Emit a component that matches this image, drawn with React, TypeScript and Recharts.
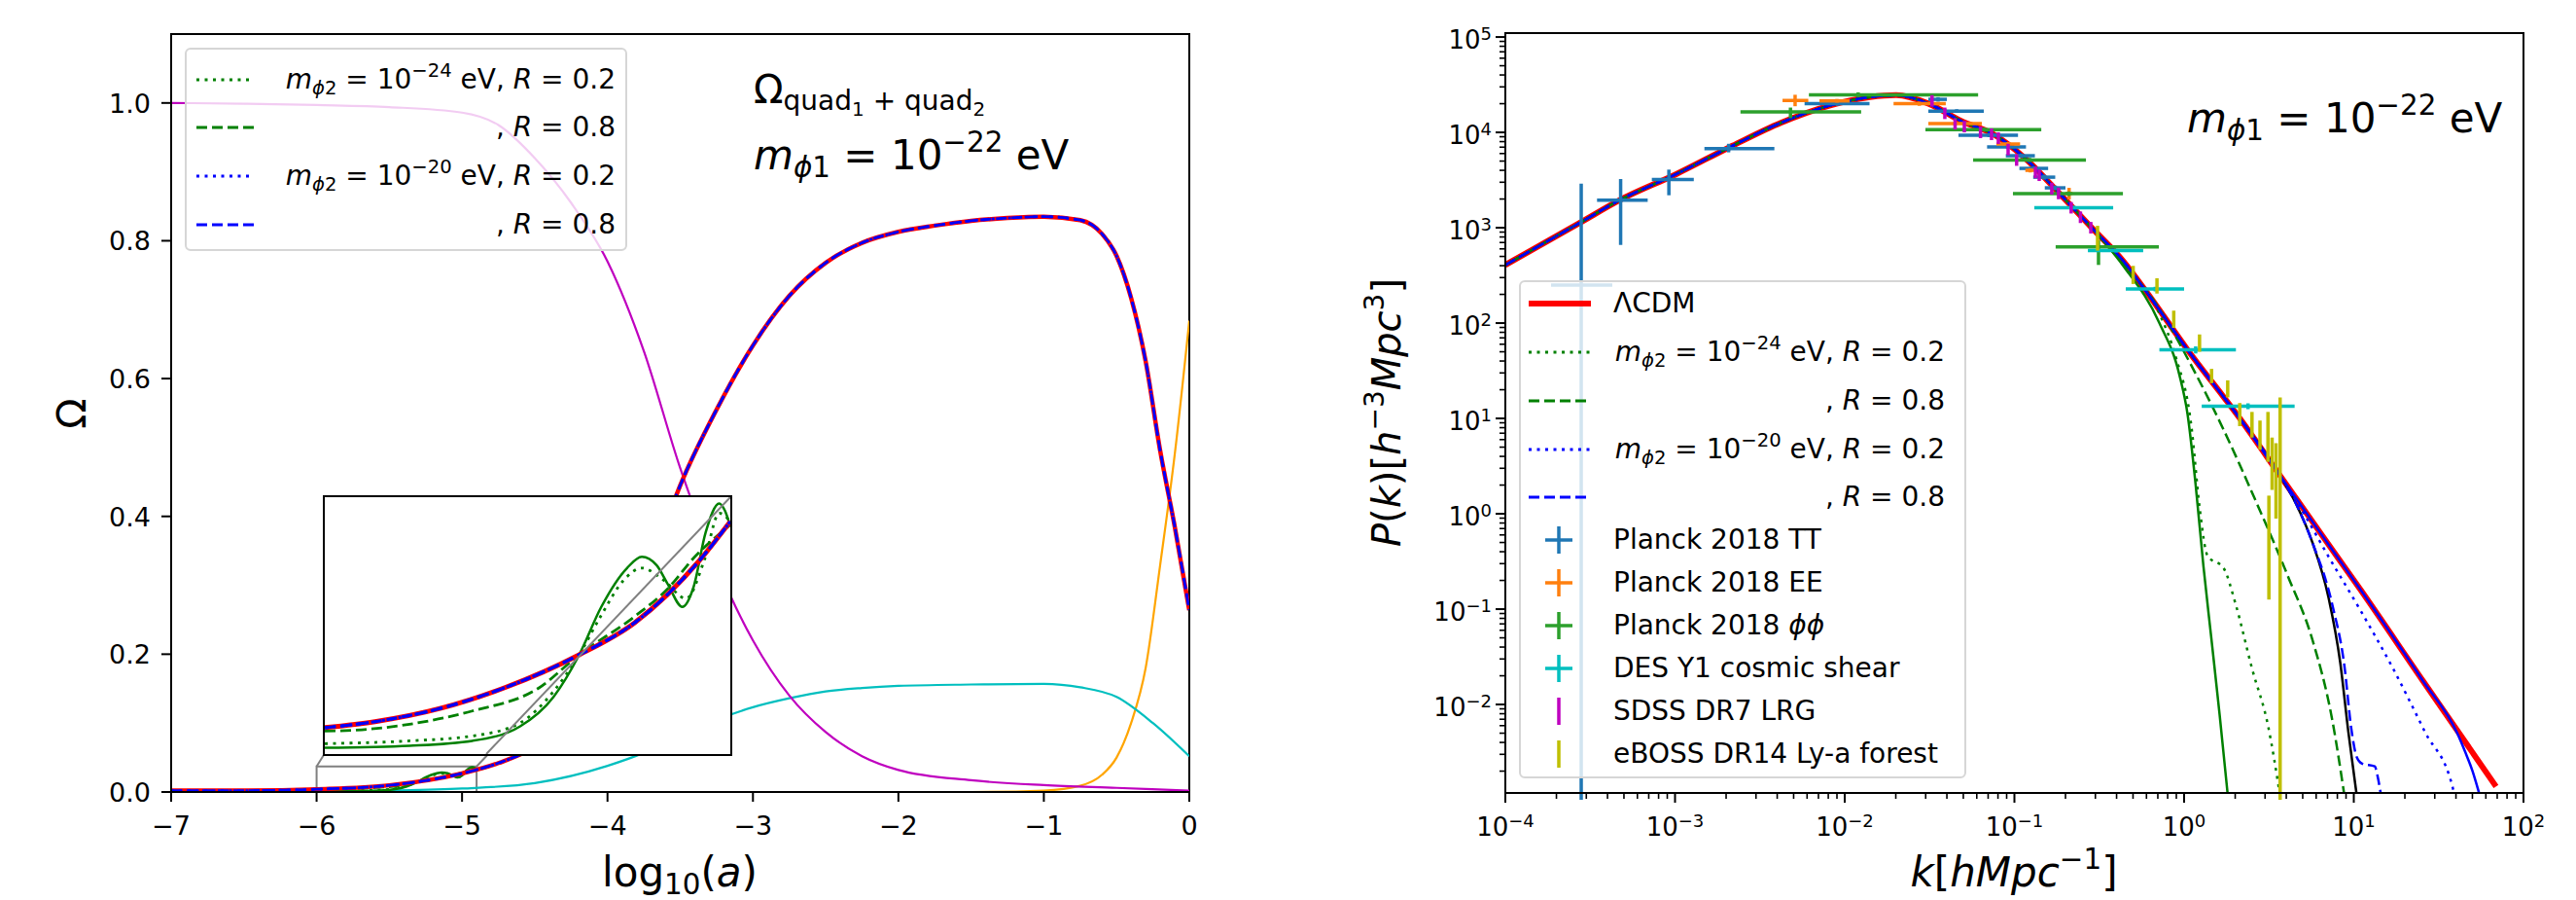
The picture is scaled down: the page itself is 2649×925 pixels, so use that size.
import React from 'react';
import { ComposedChart, Line, Scatter, ErrorBar, XAxis, YAxis, ReferenceArea, Legend } from 'recharts';

const FONT = '"DejaVu Sans", Verdana, sans-serif';

// ---------- left panel: density parameters vs log10(a) ----------
const radX = [-7, -6.5, -6, -5.5, -5, -4.75, -4.5, -4.25, -4, -3.75, -3.5, -3.25, -3, -2.75, -2.5, -2.25, -2, -1.5, -1, -0.5, 0];
const radY = [1.0, 0.999, 0.997, 0.994, 0.986, 0.968, 0.92, 0.855, 0.77, 0.64, 0.47, 0.33, 0.22, 0.14, 0.087, 0.052, 0.032, 0.017, 0.01, 0.006, 0.002];

const quadX = [-7, -6.5, -6, -5.5, -5, -4.75, -4.5, -4.25, -4, -3.75, -3.5, -3.25, -3, -2.75, -2.5, -2.25, -2, -1.75, -1.5, -1.25, -1, -0.75, -0.6, -0.5, -0.4, -0.3, -0.2, -0.1, 0];
const quadY = [0.002, 0.002, 0.004, 0.0097, 0.027, 0.042, 0.066, 0.115, 0.185, 0.3, 0.445, 0.555, 0.648, 0.72, 0.768, 0.797, 0.813, 0.822, 0.829, 0.833, 0.835, 0.83, 0.81, 0.778, 0.717, 0.625, 0.495, 0.385, 0.264];

const barX = [-7, -6, -5.5, -5, -4.5, -4, -3.75, -3.5, -3.25, -3, -2.75, -2.5, -2.25, -2, -1.5, -1, -0.75, -0.5, -0.25, 0];
const barY = [0.0003, 0.0008, 0.002, 0.005, 0.013, 0.038, 0.057, 0.083, 0.105, 0.123, 0.136, 0.146, 0.151, 0.154, 0.156, 0.157, 0.152, 0.138, 0.1, 0.052];

const lamX = [-7, -1.5, -1, -0.75, -0.6, -0.5, -0.4, -0.3, -0.2, -0.1, 0];
const lamY = [0, 0, 0.002, 0.009, 0.025, 0.05, 0.1, 0.18, 0.33, 0.49, 0.684];

// inset window: log10(a) in [-6, -4.9], Omega in [0, 0.037]
const insX = [-6, -5.86, -5.685, -5.51, -5.31, -5.16, -5.07, -4.985, -4.9];
const insQuad = [0.0038, 0.0047, 0.0066, 0.0096, 0.0143, 0.0189, 0.023, 0.0278, 0.0335];
const insDashX = [-6, -5.9, -5.77, -5.6, -5.42, -5.31, -5.16, -5.07, -5.0, -4.9];
const insDashY = [0.0033, 0.0035, 0.0043, 0.0062, 0.0095, 0.0143, 0.0198, 0.0238, 0.0282, 0.033];
const insDotX = [-6, -5.77, -5.6, -5.47, -5.38, -5.31, -5.25, -5.19, -5.14, -5.08, -5.02, -4.97, -4.93, -4.9];
const insDotY = [0.0015, 0.0019, 0.0026, 0.0045, 0.009, 0.0143, 0.02, 0.025, 0.0268, 0.025, 0.0224, 0.028, 0.0347, 0.0335];
const insSolidX = [-6, -5.77, -5.6, -5.47, -5.38, -5.31, -5.25, -5.18, -5.14, -5.1, -5.07, -5.03, -5.0, -4.967, -4.93, -4.915, -4.9];
const insSolidY = [0.0009, 0.0012, 0.0019, 0.004, 0.0082, 0.0143, 0.0212, 0.0268, 0.0284, 0.0272, 0.0245, 0.0212, 0.024, 0.0319, 0.0361, 0.0351, 0.0328];
const insLim = { x0: -6, x1: -4.9, y1: 0.037 };
const insCornerBL = { x: -5.95, y: 0.054 };
const insCornerTR = { x: -3.149, y: 0.429 };
const insLinkX = [-5.562, -4.9];
const insLinkY = [0, 0.037];

const xTicksL = [-7, -6, -5, -4, -3, -2, -1, 0];
const yTicksL = [0, 0.2, 0.4, 0.6, 0.8, 1.0];

// ---------- right panel: P(k) ----------
const lcdmK = [1e-4, 2.74e-4, 4.72e-4, 1.01e-3, 2.18e-3, 4.2e-3, 8.1e-3, 1.41e-2, 2.01e-2, 3.13e-2, 4.85e-2, 7.53e-2, 0.117, 0.182, 0.282, 0.438, 0.582, 1.047, 2.13, 3.68, 6.35, 11.0, 25.6, 68.9];
const lcdmP = [407, 1122, 1950, 3630, 7240, 12590, 19050, 23440, 24550, 19950, 13180, 9550, 5250, 2340, 1023, 447, 229, 52.5, 10, 2.51, 0.631, 0.158, 0.0176, 0.00138];

const g24r2K = [0.438, 0.715, 0.891, 1.107, 1.233, 1.374, 1.71, 2.02, 2.51, 3.13, 3.68];
const g24r2P = [417, 126, 44.7, 7.94, 1.175, 0.363, 0.269, 0.11, 0.024, 0.00589, 0.0011];
const g24r8K = [0.438, 0.715, 1.107, 1.71, 2.65, 4.1, 5.7, 7.48, 8.81];
const g24r8P = [427, 141, 35.5, 7.59, 1.35, 0.219, 0.0479, 0.00676, 0.0011];
const g24solK = [0.438, 0.715, 0.94, 1.047, 1.17, 1.3, 1.45, 1.62, 1.81];
const g24solP = [398, 100, 28.2, 11.2, 2.0, 0.282, 0.0479, 0.00776, 0.0011];
const blackK = [4.58, 5.7, 7.1, 8.32, 9.29, 10.4];
const blackP = [1.259, 0.501, 0.132, 0.0275, 0.00513, 0.00112];
const b20r2K = [5.01, 7.1, 11.0, 17.0, 26.3, 38.5, 39.8];
const b20r2P = [1.047, 0.355, 0.0955, 0.024, 0.00513, 0.00129, 0.001];
const b20r8K = [4.58, 5.7, 7.48, 8.81, 9.66, 10.4, 11.2, 13.3, 13.8, 14.4, 14.6];
const b20r8P = [1.259, 0.501, 0.11, 0.0251, 0.00562, 0.00282, 0.0024, 0.00224, 0.00178, 0.00117, 0.001];
const blueSolK = [40.7, 45.4, 50.1, 54.6];
const blueSolP = [0.00501, 0.00316, 0.002, 0.0012];

// observations: k, k range, P, P range
const ttK = [2.8e-4, 4.78e-4, 9.2e-4, 2.07e-3, 9.1e-3, 0.0355, 0.0457, 0.0708, 0.0912, 0.11, 0.13, 0.15, 0.174];
const ttKlo = [1.86e-4, 3.47e-4, 7.3e-4, 1.49e-3, 5.8e-3, 0.0311, 0.0311, 0.0468, 0.069, 0.089, 0.107, 0.129, 0.151];
const ttKhi = [4.27e-4, 6.9e-4, 1.29e-3, 3.85e-3, 1.4e-2, 0.04, 0.066, 0.105, 0.117, 0.132, 0.158, 0.174, 0.2];
const ttP = [251, 1950, 3200, 6760, 20000, 22200, 16700, 9310, 7030, 5690, 4190, 3390, 2620];
const ttPlo = [1e-3, 660, 2190, 6170, 19000, 21000, 16000, 8900, 6700, 5400, 4000, 3200, 2480];
const ttPhi = [2900, 3240, 4070, 7590, 21000, 23400, 17500, 9800, 7400, 6000, 4400, 3600, 2770];

const eeK = [5.1e-3, 9.0e-3, 0.0275, 0.0447, 0.0918, 0.124, 0.21];
const eeKlo = [4.3e-3, 7.1e-3, 0.0194, 0.0311, 0.0783, 0.116, 0.2];
const eeKhi = [6.1e-3, 1.07e-2, 0.0394, 0.0643, 0.108, 0.133, 0.22];
const eeP = [21600, 21400, 20000, 12400, 7550, 4000, 2290];
const eePlo = [18800, 20500, 19000, 11800, 7200, 3800, 1980];
const eePhi = [24800, 22400, 21000, 13000, 7900, 4200, 2620];

const ppK = [4.79e-3, 0.012, 0.066, 0.123, 0.209, 0.313];
const ppKlo = [2.43e-3, 6.15e-3, 0.0299, 0.0571, 0.098, 0.175];
const ppKhi = [1.25e-2, 0.0611, 0.144, 0.264, 0.436, 0.71];
const ppP = [16400, 24800, 10700, 5130, 2280, 631];
const ppPlo = [14100, 23400, 10200, 4900, 2150, 407];
const ppPhi = [18200, 26300, 11200, 5400, 2400, 741];

const desK = [0.224, 0.398, 0.676, 1.17, 2.38];
const desKlo = [0.131, 0.271, 0.453, 0.715, 1.27];
const desKhi = [0.382, 0.574, 1.0, 2.02, 4.48];
const desP = [1620, 575, 228, 52.5, 13.4];
const desPlo = [1560, 550, 215, 48, 12.5];
const desPhi = [1700, 600, 240, 57, 14.4];

const sdssK = [0.0327, 0.0389, 0.0447, 0.0507, 0.0631, 0.0733, 0.0804, 0.0918, 0.103, 0.133, 0.14, 0.166, 0.182, 0.216, 0.245, 0.282];
const sdssP = [21380, 15850, 12300, 11480, 10000, 9550, 8710, 6610, 5130, 3800, 3550, 2570, 2290, 1620, 1290, 1000];
const sdssPlo = [18600, 13800, 10700, 10000, 8700, 8300, 7570, 5750, 4460, 3300, 3090, 2230, 1990, 1410, 1120, 870];
const sdssPhi = [24600, 18200, 14100, 13200, 11500, 11000, 10000, 7600, 5900, 4370, 4080, 2960, 2630, 1860, 1480, 1150];

const lyaK = [0.309, 0.501, 0.692, 0.869, 1.233, 1.452, 1.807, 2.128, 2.512, 2.8, 3.12, 3.16, 3.3, 3.48, 3.68];
const lyaP = [776, 320, 245, 110, 62, 27.8, 20.4, 11, 8.6, 6.7, 6.4, 0.44, 3.3, 2.2, 4.5];
const lyaPlo = [575, 257, 204, 89, 50, 23.4, 16.6, 8.3, 6.3, 4.7, 3.5, 0.126, 1.78, 0.89, 0.001];
const lyaPhi = [1047, 398, 295, 135, 76, 33.1, 25.1, 14.5, 11.7, 9.5, 11.7, 1.55, 6.3, 5.5, 16.6];

const xExpR = [-4, -3, -2, -1, 0, 1, 2];
const yExpR = [-2, -1, 0, 1, 2, 3, 4, 5];
const kDomain: [number, number] = [1e-4, 100];
const pDomain: [number, number] = [1.18e-3, 1.1e5];

// ---------- helpers ----------
const pts = (xs: number[], ys: number[]) => xs.map((x, i) => ({ x, y: ys[i] }));
const spliceInset = (xs: number[], ys: number[]) => [
  ...pts(xs, ys).filter((p) => p.x < insLim.x0),
  ...pts(insX.length ? xs.filter(() => false) : [], []),
];
const withInset = (ix: number[], iy: number[]) => [
  ...pts(quadX, quadY).filter((p) => p.x < insLim.x0),
  ...pts(ix, iy),
  ...pts(quadX, quadY).filter((p) => p.x > insLim.x1),
];
const withTail = (tk: number[], tp: number[]) => [
  ...pts(lcdmK, lcdmP).filter((p) => p.x < tk[0]),
  ...pts(tk, tp),
];
const errPts = (k: number[], p: number[], klo: number[] | null, khi: number[] | null, plo: number[], phi: number[]) =>
  k.map((x, i) => ({
    x,
    y: p[i],
    ex: klo && khi ? [x - klo[i], khi[i] - x] : [0, 0],
    ey: [p[i] - plo[i], phi[i] - p[i]],
  }));
void spliceInset;

const minorTicks = (lo: number, hi: number, e0: number, e1: number) => {
  const out: number[] = [];
  for (let e = e0; e <= e1; e++) {
    for (let m = 1; m <= 9; m++) {
      const v = m * Math.pow(10, e);
      if (v >= lo * 0.999 && v <= hi * 1.001) out.push(v);
    }
  }
  return out;
};
const xTicksR = minorTicks(kDomain[0], kDomain[1], -4, 2);
const yTicksR = minorTicks(pDomain[0], pDomain[1], -3, 5);
const isDecade = (v: number) => Math.abs(Math.log10(v) - Math.round(Math.log10(v))) < 1e-6;
const mn = (s: string) => s.replace('-', '\u2212');

// ---------- ticks ----------
const LinXTick = (p: any) => (
  <g>
    <line x1={p.x} x2={p.x} y1={p.y} y2={p.y + 10} stroke="#000" strokeWidth={2} />
    <text x={p.x} y={p.y + 44} textAnchor="middle" fontSize={27} fontFamily={FONT} fill="#000">
      {mn(String(p.payload.value))}
    </text>
  </g>
);
const LinYTick = (p: any) => (
  <g>
    <line x1={p.x - 10} x2={p.x} y1={p.y} y2={p.y} stroke="#000" strokeWidth={2} />
    <text x={p.x - 21} y={p.y + 10} textAnchor="end" fontSize={27} fontFamily={FONT} fill="#000">
      {Number(p.payload.value).toFixed(1)}
    </text>
  </g>
);
const LogXTick = (p: any) => {
  const v = p.payload.value;
  const major = isDecade(v);
  return (
    <g>
      <line x1={p.x} x2={p.x} y1={p.y} y2={p.y + (major ? 10 : 6)} stroke="#000" strokeWidth={major ? 2 : 1.6} />
      {major && xExpR.includes(Math.round(Math.log10(v))) ? (
        <text x={p.x} y={p.y + 44} textAnchor="middle" fontSize={26} fontFamily={FONT} fill="#000">
          <tspan>10</tspan>
          <tspan dy={-9} fontSize={18}>{mn(String(Math.round(Math.log10(v))))}</tspan>
        </text>
      ) : null}
    </g>
  );
};
const LogYTick = (p: any) => {
  const v = p.payload.value;
  const major = isDecade(v);
  return (
    <g>
      <line x1={p.x - (major ? 10 : 6)} x2={p.x} y1={p.y} y2={p.y} stroke="#000" strokeWidth={major ? 2 : 1.6} />
      {major && yExpR.includes(Math.round(Math.log10(v))) ? (
        <text x={p.x - 14} y={p.y + 12} textAnchor="end" fontSize={26} fontFamily={FONT} fill="#000">
          <tspan>10</tspan>
          <tspan dy={-9} fontSize={18}>{mn(String(Math.round(Math.log10(v))))}</tspan>
        </text>
      ) : null}
    </g>
  );
};

// ---------- math text ----------
type Seg = [string, number?, number?, boolean?];
function SvgMath({ x, y, size, segs, anchor = 'start', rot = false }: { x: number; y: number; size: number; segs: Seg[]; anchor?: string; rot?: boolean }) {
  let prev = 0;
  return (
    <text x={x} y={y} fontFamily={FONT} fontSize={size} textAnchor={anchor as any} fill="#000"
      transform={rot ? `rotate(-90 ${x} ${y})` : undefined} style={{ whiteSpace: 'pre' }}>
      {segs.map((s, i) => {
        const [t, sc = 1, r = 0, it = false] = s;
        const dy = -(r - prev) * size;
        prev = r;
        return (
          <tspan key={i} dy={dy} fontSize={size * sc} fontStyle={it ? 'italic' : 'normal'}>{t}</tspan>
        );
      })}
    </text>
  );
}

const Sub = ({ children }: any) => <span style={{ fontSize: '0.7em', position: 'relative', top: '0.3em' }}>{children}</span>;
const Sup = ({ children }: any) => <span style={{ fontSize: '0.7em', position: 'relative', top: '-0.6em' }}>{children}</span>;
const MassText = ({ exp }: { exp: string }) => (
  <span>
    <i>m</i><Sub><i>ϕ</i>2</Sub> = 10<Sup>{exp}</Sup> eV, <i>R</i> = 0.2
  </span>
);
const R8Text = () => (<span>, <i>R</i> = 0.8</span>);

const LineSample = ({ w, color, dash, sw }: { w: number; color: string; dash?: string; sw: number }) => (
  <svg width={w} height={14} style={{ display: 'block' }}>
    <line x1={0} x2={w} y1={7} y2={7} stroke={color} strokeWidth={sw} strokeDasharray={dash} />
  </svg>
);
const CrossSample = ({ color, hbar }: { color: string; hbar: boolean }) => (
  <svg width={30} height={30} style={{ display: 'block' }}>
    {hbar ? <line x1={1} x2={29} y1={15} y2={15} stroke={color} strokeWidth={3.5} /> : null}
    <line x1={15} x2={15} y1={1} y2={29} stroke={color} strokeWidth={3.5} />
  </svg>
);

const DOT = '3 5.5';
const DASH = '11 5';

type Row = { cy: number; sample: React.ReactNode; text: React.ReactNode; right?: boolean; sx: number; sw: number };
function LegendBox({ w, h, rows, textLeft, textRight }: { w: number; h: number; rows: Row[]; textLeft: number; textRight: number }) {
  return (
    <div style={{ position: 'relative', width: w, height: h, boxSizing: 'border-box', border: '2px solid #d6d6d6', borderRadius: 6, background: 'rgba(255,255,255,0.8)', fontFamily: FONT, fontSize: 28, color: '#000' }}>
      {rows.map((r, i) => (
        <React.Fragment key={i}>
          <div style={{ position: 'absolute', left: r.sx, top: r.cy - (r.sw / 2) }}>{r.sample}</div>
          <div style={{ position: 'absolute', left: textLeft, width: w - textLeft - textRight, top: r.cy - 25, height: 50, lineHeight: '50px', textAlign: r.right ? 'right' : 'left', whiteSpace: 'nowrap' }}>
            {r.text}
          </div>
        </React.Fragment>
      ))}
    </div>
  );
}

const leftRows: Row[] = [
  { cy: 31, sx: 10, sw: 14, sample: <LineSample w={59} color="#008000" dash={DOT} sw={3} />, text: <MassText exp="−24" />, right: true },
  { cy: 80, sx: 10, sw: 14, sample: <LineSample w={59} color="#008000" dash={DASH} sw={3} />, text: <R8Text />, right: true },
  { cy: 130, sx: 10, sw: 14, sample: <LineSample w={59} color="#0000ff" dash={DOT} sw={3} />, text: <MassText exp="−20" />, right: true },
  { cy: 180, sx: 10, sw: 14, sample: <LineSample w={59} color="#0000ff" dash={DASH} sw={3} />, text: <R8Text />, right: true },
];

const rightRows: Row[] = [
  { cy: 22, sx: 8, sw: 14, sample: <LineSample w={64} color="#ff0000" sw={6} />, text: <span>ΛCDM</span> },
  { cy: 72, sx: 8, sw: 14, sample: <LineSample w={64} color="#008000" dash={DOT} sw={3} />, text: <MassText exp="−24" />, right: true },
  { cy: 122, sx: 8, sw: 14, sample: <LineSample w={64} color="#008000" dash={DASH} sw={3} />, text: <R8Text />, right: true },
  { cy: 172, sx: 8, sw: 14, sample: <LineSample w={64} color="#0000ff" dash={DOT} sw={3} />, text: <MassText exp="−20" />, right: true },
  { cy: 221, sx: 8, sw: 14, sample: <LineSample w={64} color="#0000ff" dash={DASH} sw={3} />, text: <R8Text />, right: true },
  { cy: 265, sx: 24, sw: 30, sample: <CrossSample color="#1f77b4" hbar />, text: <span>Planck 2018 TT</span> },
  { cy: 309, sx: 24, sw: 30, sample: <CrossSample color="#ff7f0e" hbar />, text: <span>Planck 2018 EE</span> },
  { cy: 353, sx: 24, sw: 30, sample: <CrossSample color="#2ca02c" hbar />, text: <span>Planck 2018 <i>ϕϕ</i></span> },
  { cy: 397, sx: 24, sw: 30, sample: <CrossSample color="#00bfbf" hbar />, text: <span>DES Y1 cosmic shear</span> },
  { cy: 441, sx: 24, sw: 30, sample: <CrossSample color="#bf00bf" hbar={false} />, text: <span>SDSS DR7 LRG</span> },
  { cy: 485, sx: 24, sw: 30, sample: <CrossSample color="#bfbf00" hbar={false} />, text: <span>eBOSS DR14 Ly-a forest</span> },
];

const axisLine = { stroke: '#000', strokeWidth: 2 };
const EmptyShape = () => <g />;

function OmegaChart() {
  const ln = (data: any[], color: string, sw: number, dash?: string, type: any = 'monotone') => (
    <Line data={data} dataKey="y" type={type} stroke={color} strokeWidth={sw} strokeDasharray={dash} dot={false} isAnimationActive={false} legendType="none" />
  );
  return (
    <ComposedChart width={1300} height={925} margin={{ top: 35, right: 77, bottom: 11, left: 76 }}>
      <XAxis type="number" dataKey="x" domain={[-7, 0]} ticks={xTicksL} interval={0} allowDataOverflow
        tick={LinXTick} tickLine={false} tickSize={0} tickMargin={0} axisLine={axisLine} height={100} />
      <YAxis type="number" domain={[0, 1.1]} ticks={yTicksL} interval={0} allowDataOverflow
        tick={LinYTick} tickLine={false} tickSize={0} tickMargin={0} axisLine={axisLine} width={100} />
      {ln(pts(lamX, lamY), '#ffa500', 2.2)}
      {ln(pts(barX, barY), '#00bfbf', 2.2)}
      {ln(pts(radX, radY), '#bf00bf', 2.2)}
      {ln(withInset(insSolidX, insSolidY), '#008000', 2.5)}
      {ln(withInset(insDotX, insDotY), '#008000', 2.5, DOT)}
      {ln(withInset(insDashX, insDashY), '#008000', 2.5, DASH)}
      {ln(pts(quadX, quadY), '#ff0000', 4.5)}
      {ln(pts(quadX, quadY), '#0000ff', 2.8, DOT)}
      {ln(pts(quadX, quadY), '#0000ff', 2.8, DASH)}
      <ReferenceArea x1={insLim.x0} x2={insLim.x1} y1={0} y2={insLim.y1} fill="none" stroke="#808080" strokeWidth={2} ifOverflow="visible" />
      {ln([{ x: insLim.x0, y: insLim.y1 }, insCornerBL], '#808080', 2, undefined, 'linear')}
      {ln([{ x: insLim.x1, y: insLim.y1 }, insCornerTR], '#808080', 2, undefined, 'linear')}
      <ReferenceArea x1={-7} x2={0} y1={0} y2={1.1} fill="none" stroke="#000" strokeWidth={2} ifOverflow="visible" />
      <Legend layout="vertical" align="center" verticalAlign="middle" width={455} height={209}
        wrapperStyle={{ left: 190, top: 49, width: 455, height: 209 }}
        content={() => <LegendBox w={455} h={209} rows={leftRows} textLeft={95} textRight={14} />} />
    </ComposedChart>
  );
}

function InsetChart() {
  const ln = (data: any[], color: string, sw: number, dash?: string, type: any = 'monotone') => (
    <Line data={data} dataKey="y" type={type} stroke={color} strokeWidth={sw} strokeDasharray={dash} dot={false} isAnimationActive={false} legendType="none" />
  );
  return (
    <ComposedChart width={417} height={264} margin={{ top: 0, right: 0, bottom: 0, left: 0 }}>
      <XAxis type="number" dataKey="x" domain={[insLim.x0, insLim.x1]} allowDataOverflow hide />
      <YAxis type="number" domain={[0, insLim.y1]} allowDataOverflow hide />
      {ln(pts(insSolidX, insSolidY), '#008000', 2.5)}
      {ln(pts(insDotX, insDotY), '#008000', 2.8, DOT)}
      {ln(pts(insDashX, insDashY), '#008000', 2.8, DASH)}
      {ln(pts(insX, insQuad), '#ff0000', 5)}
      {ln(pts(insX, insQuad), '#0000ff', 3.2, DOT)}
      {ln(pts(insX, insQuad), '#0000ff', 3.2, DASH)}
      {ln(pts(insLinkX, insLinkY), '#808080', 2, undefined, 'linear')}
    </ComposedChart>
  );
}

function PowerChart() {
  const ln = (data: any[], color: string, sw: number, dash?: string) => (
    <Line data={data} dataKey="y" type="monotone" stroke={color} strokeWidth={sw} strokeDasharray={dash} dot={false} isAnimationActive={false} legendType="none" />
  );
  const obs = (data: any[], color: string, hbar: boolean) => (
    <Scatter data={data} dataKey="y" shape={EmptyShape} isAnimationActive={false} legendType="none">
      {hbar ? <ErrorBar dataKey="ex" direction="x" width={0} stroke={color} strokeWidth={3.5} isAnimationActive={false} /> : null}
      <ErrorBar dataKey="ey" direction="y" width={0} stroke={color} strokeWidth={3.5} isAnimationActive={false} />
    </Scatter>
  );
  return (
    <ComposedChart width={1349} height={925} margin={{ top: 34, right: 54, bottom: 10, left: 148 }}>
      <XAxis type="number" dataKey="x" scale="log" domain={kDomain} ticks={xTicksR} interval={0} allowDataOverflow
        tick={LogXTick} tickLine={false} tickSize={0} tickMargin={0} axisLine={axisLine} height={100} />
      <YAxis type="number" scale="log" domain={pDomain} ticks={yTicksR} interval={0} allowDataOverflow
        tick={LogYTick} tickLine={false} tickSize={0} tickMargin={0} axisLine={axisLine} width={100} />
      {ln(pts(lcdmK, lcdmP), '#ff0000', 6)}
      {ln(withTail(blackK, blackP), '#000000', 2.5)}
      {ln(withTail(blueSolK, blueSolP), '#0000ff', 2.5)}
      {ln(withTail(g24solK, g24solP), '#008000', 2.5)}
      {ln(withTail(g24r2K, g24r2P), '#008000', 2.5, DOT)}
      {ln(withTail(g24r8K, g24r8P), '#008000', 2.5, DASH)}
      {ln(withTail(b20r2K, b20r2P), '#0000ff', 2.5, DOT)}
      {ln(withTail(b20r8K, b20r8P), '#0000ff', 2.5, DASH)}
      {obs(errPts(ttK, ttP, ttKlo, ttKhi, ttPlo, ttPhi), '#1f77b4', true)}
      {obs(errPts(eeK, eeP, eeKlo, eeKhi, eePlo, eePhi), '#ff7f0e', true)}
      {obs(errPts(ppK, ppP, ppKlo, ppKhi, ppPlo, ppPhi), '#2ca02c', true)}
      {obs(errPts(desK, desP, desKlo, desKhi, desPlo, desPhi), '#00bfbf', true)}
      {obs(errPts(sdssK, sdssP, null, null, sdssPlo, sdssPhi), '#bf00bf', false)}
      {obs(errPts(lyaK, lyaP, null, null, lyaPlo, lyaPhi), '#bfbf00', false)}
      <ReferenceArea x1={kDomain[0]} x2={kDomain[1]} y1={pDomain[0]} y2={pDomain[1]} fill="none" stroke="#000" strokeWidth={2} ifOverflow="visible" />
      <Legend layout="vertical" align="center" verticalAlign="middle" width={460} height={512}
        wrapperStyle={{ left: 262, top: 288, width: 460, height: 512 }}
        content={() => <LegendBox w={460} h={512} rows={rightRows} textLeft={95} textRight={24} />} />
    </ComposedChart>
  );
}

export default function App() {
  return (
    <div style={{ position: 'absolute', left: 0, top: 0, width: 2649, height: 925, background: '#fff', overflow: 'hidden' }}>
      <div style={{ position: 'absolute', left: 0, top: 0 }}>
        <OmegaChart />
      </div>
      <div style={{ position: 'absolute', left: 332, top: 509, width: 421, height: 268, border: '2px solid #000', boxSizing: 'border-box', background: '#fff' }}>
        <InsetChart />
      </div>
      <div style={{ position: 'absolute', left: 1300, top: 0 }}>
        <PowerChart />
      </div>
      <svg width={2649} height={925} style={{ position: 'absolute', left: 0, top: 0, pointerEvents: 'none' }}>
        <SvgMath x={775} y={106} size={40} segs={[['Ω'], ['quad', 0.7, -0.18], ['1', 0.5, -0.33], [' + quad', 0.7, -0.18], ['2', 0.5, -0.33]]} />
        <SvgMath x={775} y={174} size={42} segs={[['m', 1, 0, true], ['ϕ', 0.7, -0.2, true], ['1', 0.7, -0.2], [' = 10'], ['−22', 0.7, 0.42], [' eV']]} />
        <SvgMath x={2249} y={136} size={42} segs={[['m', 1, 0, true], ['ϕ', 0.7, -0.2, true], ['1', 0.7, -0.2], [' = 10'], ['−22', 0.7, 0.42], [' eV']]} />
        <SvgMath x={699} y={911} size={42} anchor="middle" segs={[['log'], ['10', 0.7, -0.2], ['('], ['a', 1, 0, true], [')']]} />
        <SvgMath x={88} y={425} size={41} anchor="middle" rot segs={[['Ω']]} />
        <SvgMath x={2071} y={911} size={42} anchor="middle" segs={[['k', 1, 0, true], ['['], ['hMpc', 1, 0, true], ['−1', 0.7, 0.42], [']']]} />
        <SvgMath x={1440} y={424} size={40} anchor="middle" rot segs={[['P', 1, 0, true], ['('], ['k', 1, 0, true], (')[' as any) && [')['], ['h', 1, 0, true], ['−3', 0.7, 0.42], ['Mpc', 1, 0, true], ['3', 0.7, 0.42], [']']]} />
      </svg>
    </div>
  );
}
